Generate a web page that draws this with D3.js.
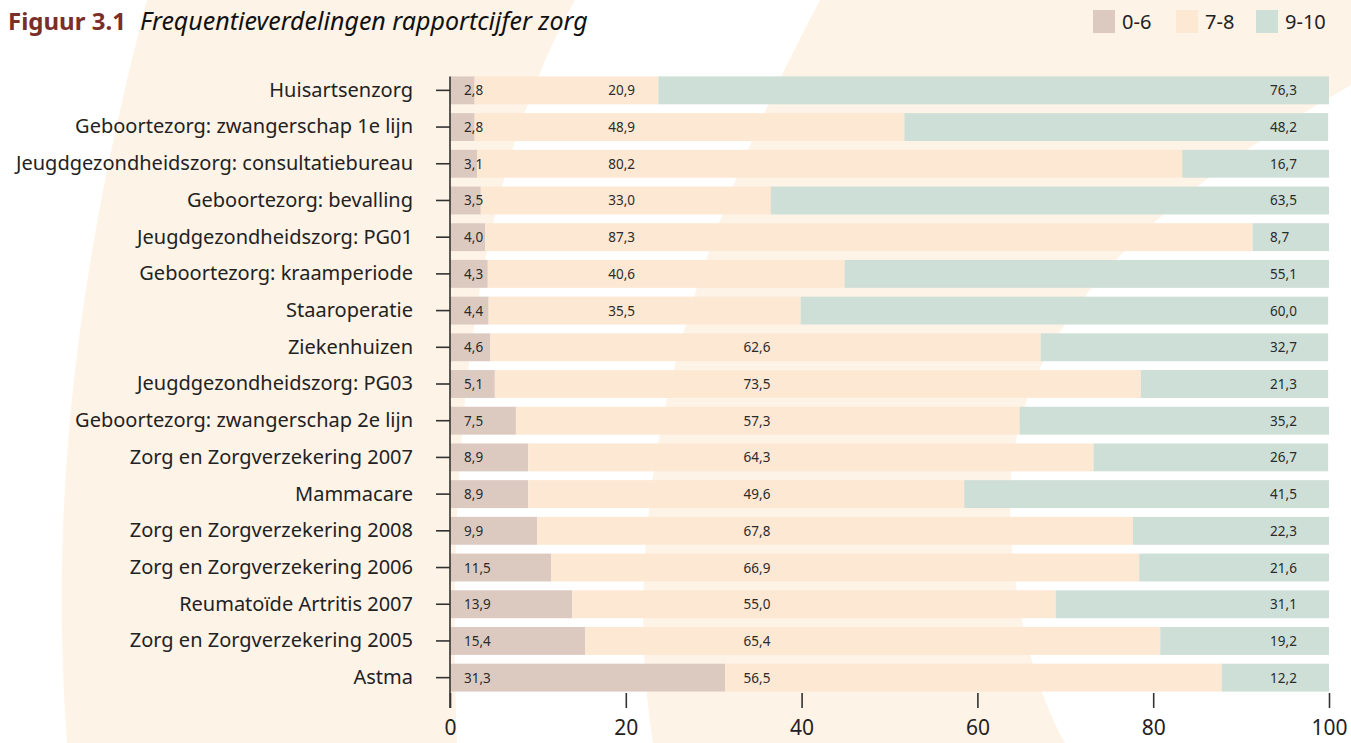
<!DOCTYPE html>
<html>
<head>
<meta charset="utf-8">
<script src="https://cdn.jsdelivr.net/npm/d3@7"></script>
<style>
  body { margin: 0; background: #fff; }
  svg { display: block; font-family: "Noto Sans", sans-serif; }
</style>
</head>
<body>
<div id="chart"></div>
<script>
// Frequency distribution of care ratings (percentages per group)
const categories = [
  'Huisartsenzorg',
  'Geboortezorg: zwangerschap 1e lijn',
  'Jeugdgezondheidszorg: consultatiebureau',
  'Geboortezorg: bevalling',
  'Jeugdgezondheidszorg: PG01',
  'Geboortezorg: kraamperiode',
  'Staaroperatie',
  'Ziekenhuizen',
  'Jeugdgezondheidszorg: PG03',
  'Geboortezorg: zwangerschap 2e lijn',
  'Zorg en Zorgverzekering 2007',
  'Mammacare',
  'Zorg en Zorgverzekering 2008',
  'Zorg en Zorgverzekering 2006',
  'Reumatoïde Artritis 2007',
  'Zorg en Zorgverzekering 2005',
  'Astma'
];
const low = [2.8, 2.8, 3.1, 3.5, 4.0, 4.3, 4.4, 4.6, 5.1, 7.5, 8.9, 8.9, 9.9, 11.5, 13.9, 15.4, 31.3];
const mid = [20.9, 48.9, 80.2, 33.0, 87.3, 40.6, 35.5, 62.6, 73.5, 57.3, 64.3, 49.6, 67.8, 66.9, 55.0, 65.4, 56.5];
const high = [76.3, 48.2, 16.7, 63.5, 8.7, 55.1, 60.0, 32.7, 21.3, 35.2, 26.7, 41.5, 22.3, 21.6, 31.1, 19.2, 12.2];
const seriesNames = ['0-6', '7-8', '9-10'];
const xTicks = [0, 20, 40, 60, 80, 100];

const colors = { '0-6': '#dccac1', '7-8': '#fde8d3', '9-10': '#cedfd7' };
const cream = '#fef3e7';

const W = 1351, H = 743;
const svg = d3.select('#chart').append('svg')
  .attr('width', W)
  .attr('height', H);

// decorative background bands
svg.append('path')
  .attr('d', 'M147,0 C95,200 45,450 67,743 L457,743 C445,420 480,170 575,0 Z')
  .attr('fill', cream);
svg.append('path')
  .attr('d', 'M820,0 L1351,0 L1351,85 C1150,200 1010,330 1010,500 C1010,600 1035,690 1065,743 L653,743 C625,560 650,320 820,0 Z')
  .attr('fill', cream);

const rows = categories.map((c, i) => ({ cat: c, '0-6': low[i], '7-8': mid[i], '9-10': high[i] }));
const stacked = d3.stack().keys(seriesNames)(rows);

const x = d3.scaleLinear().domain([0, 100]).range([450, 1329]);
const y = d3.scaleBand().domain(categories).range([72, 696])
  .paddingInner(0.24).paddingOuter(0.12);

svg.append('g')
  .selectAll('g')
  .data(stacked)
  .join('g')
  .attr('fill', d => colors[d.key])
  .selectAll('rect')
  .data(d => d)
  .join('rect')
  .attr('x', d => x(d[0]))
  .attr('y', d => y(d.data.cat))
  .attr('width', d => x(d[1]) - x(d[0]))
  .attr('height', y.bandwidth());

// value labels in fixed columns
const fmt = v => d3.format('.1f')(v).replace('.', ',');
const labelG = svg.append('g')
  .style('font-size', '13.5px')
  .attr('fill', '#2b2b2b');
rows.forEach((r, i) => {
  const cy = y(r.cat) + y.bandwidth() / 2 + 5;
  labelG.append('text').attr('x', x(1.6)).attr('y', cy).text(fmt(r['0-6']));
  labelG.append('text').attr('x', x(i < 7 ? 18 : 33.4)).attr('y', cy).text(fmt(r['7-8']));
  labelG.append('text').attr('x', x(93.3)).attr('y', cy).text(fmt(r['9-10']));
});

// left axis
const yAxis = svg.append('g')
  .attr('transform', `translate(${x(0)},0)`)
  .call(d3.axisLeft(y).tickSize(14).tickPadding(23).tickSizeOuter(0));
yAxis.select('.domain').remove();
yAxis.selectAll('line').attr('stroke', '#333').attr('stroke-width', 1.6);
yAxis.selectAll('text').style('font-size', '20px').attr('fill', '#222')
  .attr('font-family', '"Noto Sans", sans-serif');

svg.append('line')
  .attr('x1', x(0)).attr('x2', x(0))
  .attr('y1', y(categories[0])).attr('y2', 708)
  .attr('stroke', '#333').attr('stroke-width', 1.6);

// bottom axis
const xAxis = svg.append('g')
  .attr('transform', 'translate(0,693)')
  .call(d3.axisBottom(x).tickValues(xTicks).tickSize(15).tickPadding(12));
xAxis.select('.domain').remove();
xAxis.selectAll('line').attr('stroke', '#333').attr('stroke-width', 1.6);
xAxis.selectAll('text').style('font-size', '21px').attr('fill', '#222')
  .attr('font-family', '"Noto Sans", sans-serif');

// title
const title = svg.append('text').attr('x', 8).attr('y', 30);
title.append('tspan').text('Figuur 3.1')
  .attr('fill', '#7a2e28').attr('font-weight', 'bold').style('font-size', '24px');
title.append('tspan').text('Frequentieverdelingen rapportcijfer zorg')
  .attr('x', 140).attr('fill', '#111').attr('font-style', 'italic').style('font-size', '25px');

// legend
const legend = svg.append('g').selectAll('g')
  .data(seriesNames)
  .join('g')
  .attr('transform', (d, i) => `translate(${[1093, 1176, 1256][i]},10)`);
legend.append('rect').attr('width', 22).attr('height', 23).attr('fill', d => colors[d]);
legend.append('text').attr('x', 29).attr('y', 19).text(d => d)
  .style('font-size', '20px').attr('fill', '#222');
</script>
</body>
</html>
